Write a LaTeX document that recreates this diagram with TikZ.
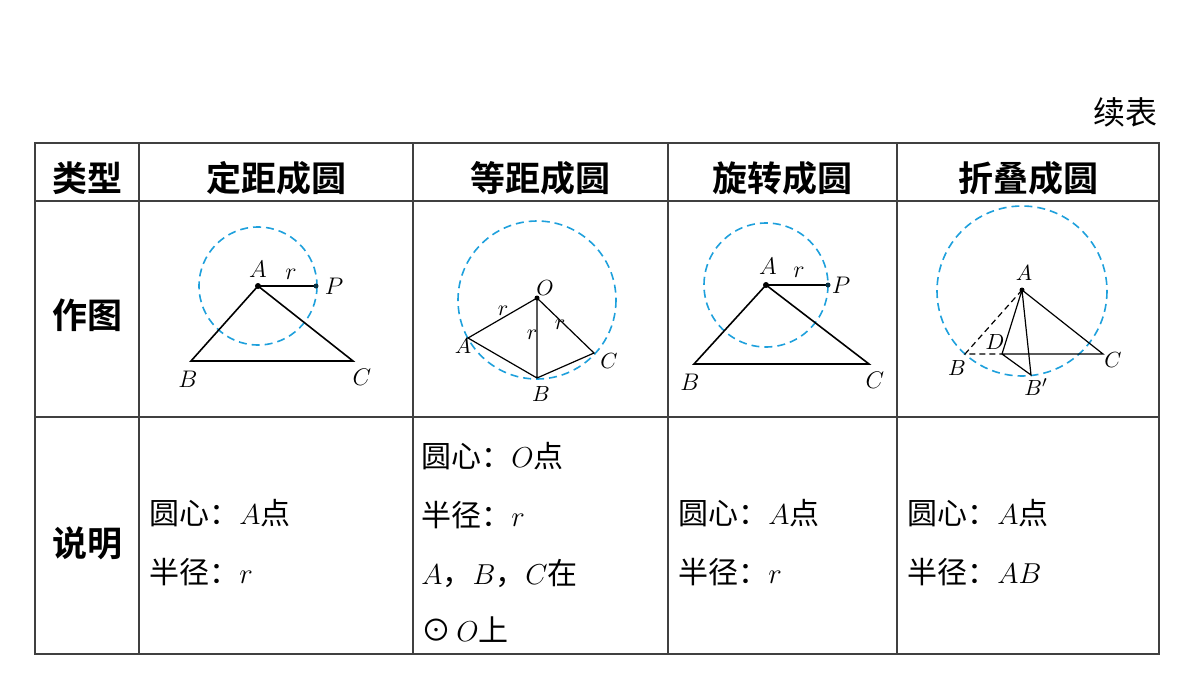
\documentclass[tikz,border=0pt]{standalone}
\usepackage{fontspec}
\newfontfamily\cjk{Noto Sans CJK SC}
\newfontfamily\cjkb{Noto Sans CJK SC Bold}
\definecolor{cblue}{RGB}{30,160,220}
\begin{document}
\begin{tikzpicture}[x=0.5pt,y=-0.5pt,
  grid/.style={draw=black!75,line width=0.6pt},
  fig/.style={line width=0.8pt},
  circ/.style={draw=cblue,dashed,line width=0.8pt,dash pattern=on 4pt off 2.5pt},
  lab/.style={font=\fontsize{13}{14}\selectfont, inner sep=0pt},
  slab/.style={font=\fontsize{11}{12}\selectfont, inner sep=0pt},
  head/.style={font=\cjkb\fontsize{17.5}{20}\selectfont, inner sep=0pt},
  body/.style={font=\cjk\fontsize{15}{18}\selectfont, anchor=west, inner sep=0pt},
  dot/.style={circle,fill=black,inner sep=0pt,minimum size=3pt}]
\useasboundingbox (0,0) rectangle (1200,675);
% table
\draw[grid] (35,143) rectangle (1159,654);
\foreach \y in {201,417} \draw[grid] (35,\y) -- (1159,\y);
\foreach \x in {139,413,668,897} \draw[grid] (\x,143) -- (\x,654);
\node[font=\cjk\fontsize{16}{18}\selectfont,anchor=east,inner sep=0pt] (xb) at (1158,112) {续表};
\node[head] (h0) at (87,178) {类型};
\node[head] (h1) at (276,178) {定距成圆};
\node[head] (h2) at (540,178) {等距成圆};
\node[head] (h3) at (782,178) {旋转成圆};
\node[head] (h4) at (1028,178) {折叠成圆};
\node[head] (r1) at (87,315) {作图};
\node[head] (r2) at (87,543) {说明};
% fig 1
\coordinate (A1) at (258,286); \coordinate (P1) at (316,286);
\coordinate (B1) at (191,361); \coordinate (C1) at (353,361);
\draw[circ] (A1) circle[radius=59];
\draw[fig] (B1) -- (A1) -- (C1) -- cycle;
\draw[fig] (A1) -- (P1);
\node[dot] at (A1) {}; \node[dot,fill=black!70!cblue,minimum size=2.5pt] at (P1) {};
\node[lab] (la1) at (258,269) {$A$};
\node[lab] (lp1) at (334,286) {$P$};
\node[lab] (lb1) at (188,379) {$B$};
\node[lab] (lc1) at (362,377) {$C$};
\node[lab] (lr1) at (291,274) {$r$};
% fig 2
\coordinate (O2) at (537,298); \coordinate (A2) at (468,338);
\coordinate (B2) at (537,378); \coordinate (C2) at (594,353);
\draw[circ] (537,300) circle[radius=79];
\draw[fig,line width=0.6pt] (O2) -- (A2) -- (B2) -- (C2) -- (O2) -- (B2);
\node[dot,minimum size=2.5pt] at (O2) {};
\node[slab] at (545,288) {$O$};
\node[slab] at (463,346) {$A$};
\node[slab] at (541,394) {$B$};
\node[slab] at (609,361) {$C$};
\node[slab] at (503,311) {$r$};
\node[slab] at (532,335) {$r$};
\node[slab] at (560,325) {$r$};
% fig 3
\coordinate (A3) at (766,285); \coordinate (P3) at (828,285);
\coordinate (B3) at (694,364); \coordinate (C3) at (869,364);
\draw[circ] (A3) circle[radius=62];
\draw[fig] (B3) -- (A3) -- (C3) -- cycle;
\draw[fig] (A3) -- (P3);
\node[dot] at (A3) {}; \node[dot,fill=black!70!cblue,minimum size=2.5pt] at (P3) {};
\node[lab] at (768,266) {$A$};
\node[lab] at (841,285) {$P$};
\node[lab] at (690,382) {$B$};
\node[lab] at (875,380) {$C$};
\node[lab] at (799,272) {$r$};
% fig 4
\coordinate (A4) at (1022,290); \coordinate (B4) at (965,354);
\coordinate (C4) at (1103,354); \coordinate (D4) at (1002,354);
\coordinate (Bp4) at (1031,375);
\draw[circ] (1022,291) circle[radius=85];
\draw[fig,line width=0.6pt,dashed,dash pattern=on 3pt off 2pt] (A4) -- (B4) -- (D4);
\draw[fig,line width=0.6pt] (D4) -- (C4) -- (A4) -- (D4) -- (Bp4) -- (A4);
\node[dot,minimum size=2.5pt] at (A4) {};
\node[slab] at (1024,273) {$A$};
\node[slab] at (995,342) {$D$};
\node[slab] at (957,368) {$B$};
\node[slab] at (1113,360) {$C$};
\node[slab] at (1036,387) {$B'$};
% body text
\node[body] (t1) at (149,513) {圆心：$A$点};
\node[body] (t2) at (149,572) {半径：$r$};
\node[body] (t3) at (421,456) {圆心：$O$点};
\node[body] (t4) at (421,515) {半径：$r$};
\node[body] (t5) at (421,573) {$A$，$B$，$C$在};
\node[body] (t6) at (421,630) {⊙\,$O$上};
\node[body] (t7) at (678,513) {圆心：$A$点};
\node[body] (t8) at (678,572) {半径：$r$};
\node[body] (t9) at (907,513) {圆心：$A$点};
\node[body] (t10) at (907,572) {半径：$AB$};
\end{tikzpicture}
\end{document}
